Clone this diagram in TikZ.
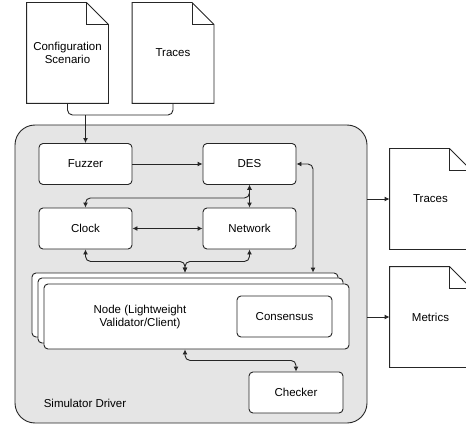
\documentclass[tikz,border=0pt]{standalone}
\usepackage{fontspec}
\setmainfont{Liberation Sans}
\usepackage{xcolor}
\usetikzlibrary{arrows.meta}

\begin{document}
\begin{tikzpicture}[x=1pt, y=-1pt,
    line width=0.9pt, draw=black!85,
    font=\fontsize{11.5}{13.5}\selectfont,
    >={Latex[length=5pt,width=5pt]},
    box/.style={draw, fill=white, rounded corners=4pt, minimum width=93pt, minimum height=41pt, align=center},
    docu/.style={minimum width=81pt, minimum height=100pt, align=center},
    link/.style={rounded corners=5pt}]
    \useasboundingbox (0,0) rectangle (466,425);
    \clip (0,0) rectangle (466,425);

    % Simulator driver (container)
    \node[draw, fill=gray!20, rounded corners=20pt, minimum width=352pt, minimum height=298pt] (driver) at (191,274) {};
    \node[anchor=west] (drvlabel) at (40,403) {Simulator Driver};

    % Documents
    \node[docu] (cfg) at (67.5,53) {Configuration\\Scenario};
    \node[docu] (trin) at (173,53) {Traces};
    \node[docu] (trout) at (430.5,199) {Traces};
    \node[docu] (met) at (430.5,317) {Metrics};
    \foreach \d in {cfg,trin,trout,met} {
        \draw (\d.north west) -- ([xshift=-22pt]\d.north east) -- ([yshift=-22pt]\d.north east)
            -- (\d.south east) -- (\d.south west) -- cycle;
        \draw ([xshift=-22pt]\d.north east) |- ([yshift=-22pt]\d.north east);
    }

    % Components
    \node[box] (fuzzer) at (85.5,164) {Fuzzer};
    \node[box] (des) at (249.5,164) {DES};
    \node[box] (clock) at (85.5,228.5) {Clock};
    \node[box] (network) at (249.5,228.5) {Network};

    % Node stack
    \node[box, minimum width=306pt, minimum height=64pt] (nodeback) at (185,305) {};
    \node[box, minimum width=305pt, minimum height=65pt] (nodemid) at (190.5,310.5) {};
    \node[box, minimum width=305pt, minimum height=65pt] (node) at (196.5,316.5) {};
    \node[align=center] (nodetxt) at (140,317) {Node (Lightweight\\Validator/Client)};
    \node[box, minimum width=95pt] (consensus) at (284.5,316.5) {Consensus};
    \node[box, minimum width=94pt] (checker) at (296,392.5) {Checker};

    % Inputs
    \coordinate (join) at (85.5,115);
    \draw[link] (cfg.south) |- (join);
    \draw[link] (trin.south) |- (join);
    \draw[->] (join) -- (fuzzer.north);

    % Links between components
    \draw[->] (fuzzer.east) -- (des.west);
    \draw[<->] (des.south) -- (network.north);
    \draw[<->, link] (des.south) -- ++(0,13) -| (clock.north);
    \draw[<->] (clock.east) -- (network.west);
    \draw[<->, link] (clock.south) -- ++(0,12) -| (nodeback.north);
    \draw[<->, link] (network.south) -- ++(0,12) -| (nodeback.north);
    \draw[<->, link] (des.east) -| ([xshift=128pt]nodeback.north);
    \draw[<->, link] ([xshift=-11.5pt]node.south) -- ++(0,11) -| (checker.north);

    % Outputs
    \draw[->] (driver.east |- trout.west) -- (trout.west);
    \draw[->] (driver.east |- met.west) -- (met.west);
\end{tikzpicture}
\end{document}
